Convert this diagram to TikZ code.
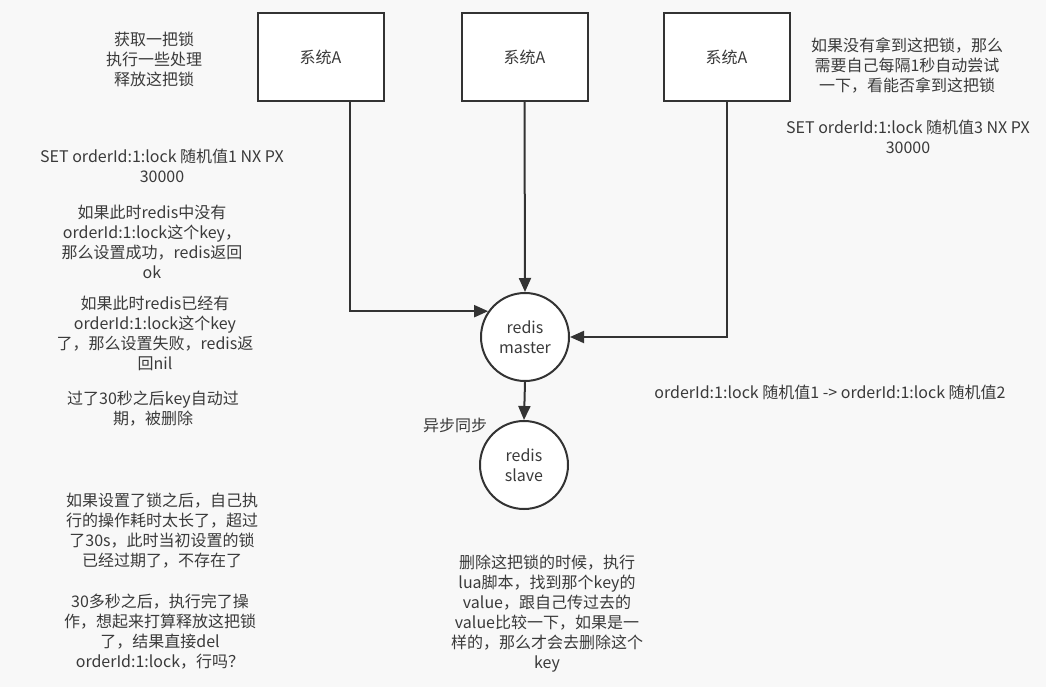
\documentclass[tikz,border=0pt]{standalone}
\usepackage{fontspec}
\setmainfont{Noto Sans CJK SC}
\usetikzlibrary{arrows.meta}
\definecolor{bgcol}{HTML}{F8F8F8}
\definecolor{inkcol}{HTML}{333333}
\definecolor{txtcol}{HTML}{3A3A3A}

\begin{document}
\begin{tikzpicture}
    [x=1pt,y=-1pt,
    every node/.style={font=\fontsize{16}{20}\selectfont},
    box/.style={rectangle,draw=inkcol,line width=2pt,fill=white,minimum width=126pt,minimum height=88pt,text=txtcol},
    store/.style={circle,draw=inkcol,line width=2pt,fill=white,minimum size=88pt,inner sep=0pt,align=center,text=txtcol},
    note/.style={align=center,text=txtcol,inner sep=0pt},
    arrow/.style={-{Triangle[length=14pt,width=12pt]},draw=inkcol,line width=2pt},
    ]
    \fill[bgcol] (0,0) rectangle (1046,687);
    \useasboundingbox (0,0) rectangle (1046,687);

    \node[box] (sysA1) at (320.5,57) {系统A};
    \node[box] (sysA2) at (524.5,57) {系统A};
    \node[box] (sysA3) at (726.5,57) {系统A};
    \node[store] (master) at (525,337) {redis\\master};
    \node[store] (slave) at (524,465) {redis\\slave};

    \draw[arrow] ([xshift=29pt]sysA1.south) |- (master.145);
    \draw[arrow] (sysA2.south) -- (master.north);
    \draw[arrow] (sysA3.south) |- (master.east);
    \draw[arrow] (master.south) -- (slave.north);

    \node[note] (syncLbl) at (455,425) {异步同步};
    \node[note] (lockSteps) at (154,59) {获取一把锁\\执行一些处理\\释放这把锁};
    \node[note] (setCmd1) at (162,166) {SET orderId:1:lock 随机值1 NX PX\\30000};
    \node[note] (setOk) at (152,242) {如果此时redis中没有\\orderId:1:lock这个key，\\那么设置成功，redis返回\\ok};
    \node[note] (setFail) at (155,333) {如果此时redis已经有\\orderId:1:lock这个key\\了，那么设置失败，redis返\\回nil};
    \node[note] (expire) at (153,409) {过了30秒之后key自动过\\期，被删除};
    \node[note] (tooLong) at (162,531) {如果设置了锁之后，自己执\\行的操作耗时太长了，超过\\了30s，此时当初设置的锁\\已经过期了，不存在了};
    \node[note] (delLock) at (160,632) {30多秒之后，执行完了操\\作，想起来打算释放这把锁\\了，结果直接del\\orderId:1:lock，行吗？};
    \node[note] (retry) at (907,65) {如果没有拿到这把锁，那么\\需要自己每隔1秒自动尝试\\一下，看能否拿到这把锁};
    \node[note] (setCmd3) at (908,137) {SET orderId:1:lock 随机值3 NX PX\\30000};
    \node[note] (overwrite) at (830,392) {orderId:1:lock 随机值1 -> orderId:1:lock 随机值2};
    \node[note] (luaDel) at (547,614) {删除这把锁的时候，执行\\lua脚本，找到那个key的\\value，跟自己传过去的\\value比较一下，如果是一\\样的，那么才会去删除这个\\key};
\end{tikzpicture}
\end{document}
